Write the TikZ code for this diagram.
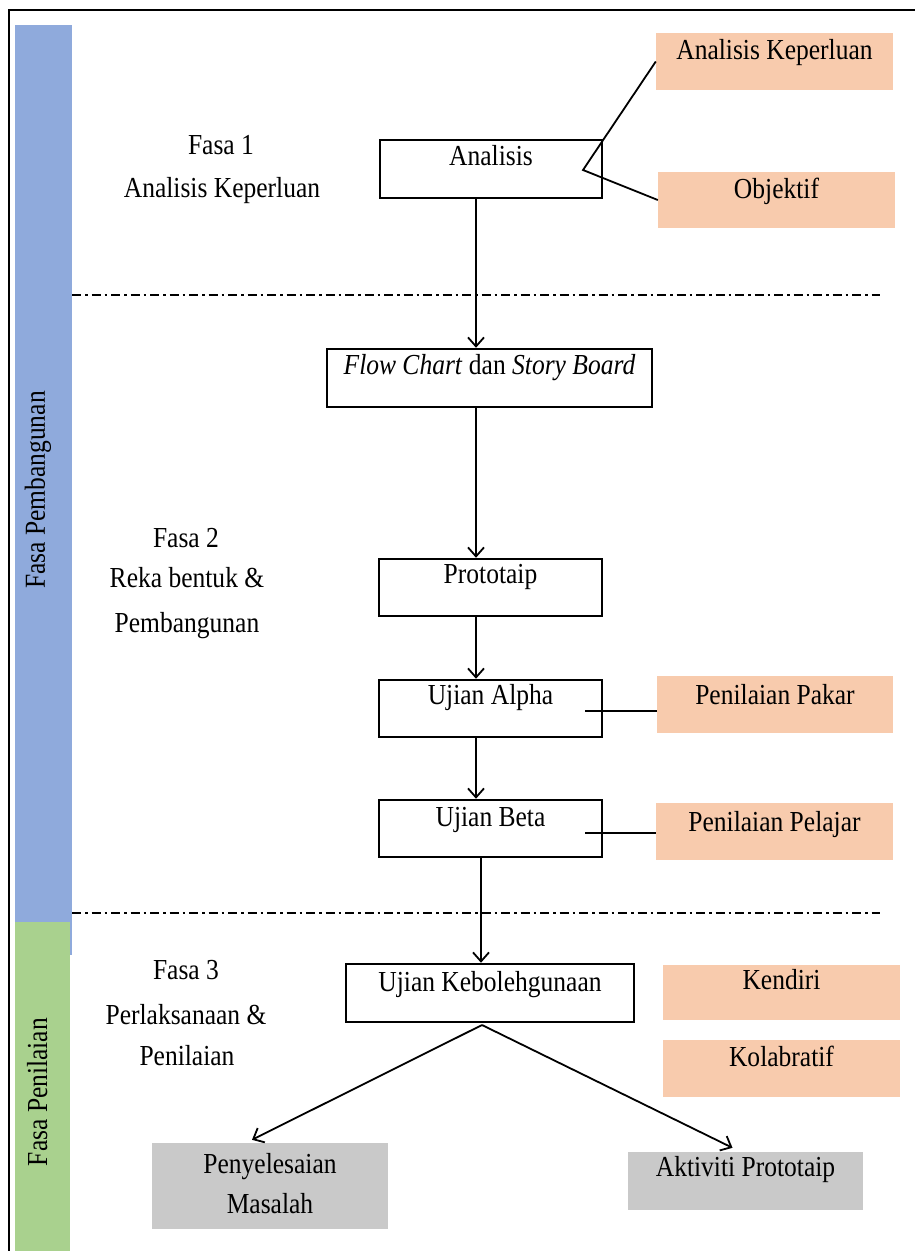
\documentclass[tikz,border=0pt]{standalone}
\usepackage{fontspec}
\setmainfont{Liberation Serif}[FakeStretch=0.88]
\usetikzlibrary{arrows.meta,calc}
\definecolor{pblue}{RGB}{143,170,220}
\definecolor{pgreen}{RGB}{169,209,142}
\definecolor{peach}{RGB}{248,203,173}
\definecolor{pgrey}{RGB}{201,201,201}
\tikzset{
  every node/.style={font=\fontsize{29}{34}\selectfont, inner sep=0pt, text height=20pt, text depth=6pt},
  wbox/.style={draw, line width=2.5pt, fill=white, text height=, text depth=},
  pbox/.style={fill=peach, text height=, text depth=},
  gbox/.style={fill=pgrey, text height=, text depth=},
  arr/.style={line width=1.8pt, -{Straight Barb[length=9pt,width=16pt,line width=1.8pt]}},
  conn/.style={line width=1.8pt},
  sepline/.style={line width=2.2pt, dash pattern=on 9pt off 4pt on 2.5pt off 4pt},
}
\begin{document}
\begin{tikzpicture}[x=1pt,y=-1pt]
\useasboundingbox (0,0) rectangle (915,1251);
\clip (0,0) rectangle (915,1251);
% outer frame
\draw[line width=2.4pt] (9,10) rectangle (940,1280);
% side bars
\fill[pblue] (15,25) rectangle (72,955);
\fill[pgreen] (15,922) rectangle (70,1260);
\node[rotate=90] (fp) at (38,490) {Fasa Pembangunan};
\node[rotate=90] (fn) at (40,1092) {Fasa Penilaian};
% separators
\draw[sepline] (72,295) -- (880,295);
\draw[sepline] (72,913) -- (880,913);
% phase labels
\node (f1a) at (221,147) {Fasa 1};
\node (f1b) at (222,190) {Analisis Keperluan};
\node (f2a) at (186,540) {Fasa 2};
\node (f2b) at (187,580) {Reka bentuk \&};
\node (f2c) at (187,625) {Pembangunan};
\node (f3a) at (186,972) {Fasa 3};
\node (f3b) at (186,1017) {Perlaksanaan \&};
\node (f3c) at (187,1058) {Penilaian};
% main boxes
\node[wbox, minimum width=222pt, minimum height=58pt] (ana) at (491,169) {};
\node at ($(ana.north)+(0,20)$) {Analisis};
\node[wbox, minimum width=325pt, minimum height=58pt] (flow) at (489.5,378) {};
\node at ($(flow.north)+(0,20)$) {\textit{Flow Chart} dan \textit{Story Board}};
\node[wbox, minimum width=223pt, minimum height=57pt] (proto) at (490.5,587.5) {};
\node at ($(proto.north)+(0,19)$) {Prototaip};
\node[wbox, minimum width=223pt, minimum height=57pt] (alpha) at (490.5,708.5) {};
\node at ($(alpha.north)+(0,19)$) {Ujian Alpha};
\node[wbox, minimum width=223pt, minimum height=57pt] (beta) at (490.5,828.5) {};
\node at ($(beta.north)+(0,21)$) {Ujian Beta};
\node[wbox, minimum width=288pt, minimum height=58pt] (keb) at (490,993) {};
\node at ($(keb.north)+(0,22)$) {Ujian Kebolehgunaan};
% peach boxes
\node[pbox, minimum width=237pt, minimum height=57pt] (ak) at (774.5,61.5) {};
\node at ($(ak.north)+(0,20)$) {Analisis Keperluan};
\node[pbox, minimum width=237pt, minimum height=56pt] (obj) at (776.5,200) {};
\node at ($(obj.north)+(0,20)$) {Objektif};
\node[pbox, minimum width=236pt, minimum height=57pt] (pakar) at (775,704.5) {};
\node at ($(pakar.north)+(0,22)$) {Penilaian Pakar};
\node[pbox, minimum width=237pt, minimum height=57pt] (pelajar) at (774.5,831.5) {};
\node at ($(pelajar.north)+(0,22)$) {Penilaian Pelajar};
\node[pbox, minimum width=237pt, minimum height=55pt] (kendiri) at (781.5,992.5) {};
\node at ($(kendiri.north)+(0,18)$) {Kendiri};
\node[pbox, minimum width=237pt, minimum height=57pt] (kolab) at (781.5,1068.5) {};
\node at ($(kolab.north)+(0,20)$) {Kolabratif};
% grey boxes
\node[gbox, minimum width=236pt, minimum height=86pt] (pm) at (270,1186) {};
\node at ($(pm.north)+(0,24)$) {Penyelesaian};
\node at ($(pm.north)+(0,64)$) {Masalah};
\node[gbox, minimum width=235pt, minimum height=58pt] (ap) at (745.5,1181) {};
\node at ($(ap.north)+(0,18)$) {Aktiviti Prototaip};
% connectors
\coordinate (ax) at (476,0);
\coordinate (bx) at (481,0);
\draw[arr] (ana.south -| ax) -- (flow.north -| ax);
\draw[arr] (flow.south -| ax) -- (proto.north -| ax);
\draw[arr] (proto.south -| ax) -- (alpha.north -| ax);
\draw[arr] (alpha.south -| ax) -- (beta.north -| ax);
\draw[arr] (beta.south -| bx) -- (keb.north -| bx);
\coordinate (j1) at (583,170);
\draw[conn] (ak.west) -- (j1) -- (obj.west);
\coordinate (j2) at (585,711);
\draw[conn] (j2) -- (j2 -| pakar.west);
\coordinate (j3) at (585,833);
\draw[conn] (j3) -- (j3 -| pelajar.west);
\coordinate (ks) at (482,1025);
\draw[arr] (ks) -- ($(pm.north)+(-18,-3)$);
\draw[arr] (ks) -- ($(ap.north)+(-13,-4)$);
\end{tikzpicture}
\end{document}
